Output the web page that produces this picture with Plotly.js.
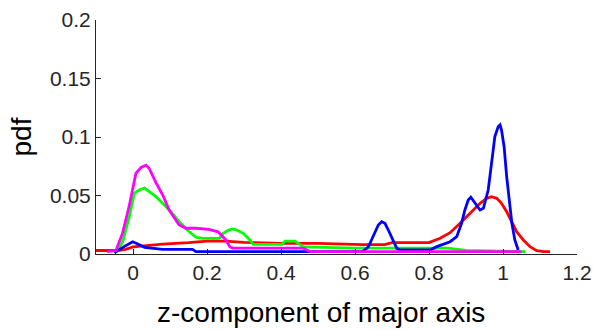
<!DOCTYPE html>
<html>
<head>
<meta charset="utf-8">
<script src="https://cdn.plot.ly/plotly-3.0.1.min.js"></script>
<style>html,body{margin:0;padding:0;background:#fff;}#chart{width:593px;height:330px;}</style>
</head>
<body>
<div id="chart"></div>
<script>
// Red series
const redX = [-0.1, -0.06, -0.04, -0.02, 0.0, 0.03, 0.08, 0.15, 0.2, 0.25, 0.3, 0.4, 0.5, 0.62, 0.68, 0.7, 0.8, 0.83, 0.857, 0.884, 0.911, 0.938, 0.956, 0.969, 0.983, 0.996, 1.01, 1.023, 1.037, 1.055, 1.073, 1.091, 1.11, 1.127];
const redY = [0.003, 0.003, 0.003, 0.004, 0.006, 0.007, 0.0085, 0.0097, 0.011, 0.011, 0.010, 0.009, 0.009, 0.008, 0.008, 0.0097, 0.0097, 0.0134, 0.0182, 0.0262, 0.0348, 0.0433, 0.0476, 0.049, 0.0476, 0.0433, 0.0362, 0.0276, 0.019, 0.012, 0.0062, 0.0028, 0.002, 0.002];
// Green series
const greenX = [-0.05, -0.041, -0.028, -0.01, 0.0035, 0.017, 0.031, 0.044, 0.062, 0.08, 0.098, 0.125, 0.152, 0.17, 0.188, 0.233, 0.244, 0.258, 0.271, 0.28, 0.298, 0.316, 0.325, 0.402, 0.411, 0.438, 0.46, 0.6, 0.85, 0.9, 1.06];
const greenY = [0.001, 0.003, 0.0105, 0.0319, 0.052, 0.0547, 0.0564, 0.0533, 0.049, 0.0433, 0.0376, 0.0276, 0.019, 0.0143, 0.0134, 0.0134, 0.0177, 0.0205, 0.0215, 0.0205, 0.0177, 0.012, 0.0083, 0.0083, 0.011, 0.011, 0.006, 0.005, 0.005, 0.003, 0.002];
// Blue series
const blueX = [-0.05, -0.046, -0.024, -0.001, 0.013, 0.031, 0.08, 0.161, 0.17, 0.3, 0.5, 0.62, 0.636, 0.649, 0.663, 0.672, 0.681, 0.69, 0.704, 0.713, 0.722, 0.803, 0.821, 0.848, 0.857, 0.875, 0.888, 0.897, 0.906, 0.913, 0.924, 0.938, 0.947, 0.96, 0.969, 0.978, 0.987, 0.992, 0.996, 1.003, 1.01, 1.017, 1.024, 1.032, 1.041];
const blueY = [0.001, 0.002, 0.0063, 0.0105, 0.0085, 0.0057, 0.004, 0.004, 0.002, 0.002, 0.002, 0.002, 0.006, 0.0148, 0.0248, 0.0276, 0.0262, 0.0205, 0.0105, 0.0048, 0.0034, 0.0034, 0.0063, 0.0091, 0.0105, 0.0148, 0.0262, 0.0376, 0.0462, 0.0485, 0.0433, 0.0376, 0.039, 0.0547, 0.0775, 0.1003, 0.1088, 0.1103, 0.106, 0.0917, 0.066, 0.0433, 0.0262, 0.012, 0.0034];
// Magenta series
const magentaX = [-0.07, -0.046, -0.028, -0.011, 0.008, 0.022, 0.035, 0.043, 0.062, 0.081, 0.097, 0.124, 0.143, 0.17, 0.205, 0.23, 0.251, 0.262, 0.27, 0.3, 0.46, 0.48, 1.05];
const magentaY = [0.002, 0.003, 0.018, 0.040, 0.069, 0.074, 0.076, 0.0735, 0.061, 0.050, 0.038, 0.025, 0.022, 0.022, 0.021, 0.019, 0.012, 0.006, 0.005, 0.005, 0.005, 0.002, 0.002];

const xTitle = "z-component of major axis";
const yTitle = "pdf";

const lw = 2.8;
const traces = [
  {x: redX, y: redY, color: "#ff0000"},
  {x: greenX, y: greenY, color: "#00ff00"},
  {x: blueX, y: blueY, color: "#0000ff"},
  {x: magentaX, y: magentaY, color: "#ff00ff"}
].map(s => ({x: s.x, y: s.y, type: "scatter", mode: "lines", line: {color: s.color, width: lw}, hoverinfo: "skip"}));

const font = "Liberation Sans, Arial, sans-serif";
const layout = {
  width: 593, height: 330,
  margin: {l: 96, r: 16, t: 20, b: 76},
  paper_bgcolor: "#fff", plot_bgcolor: "#fff",
  showlegend: false,
  font: {family: font, color: "#262626"},
  xaxis: {
    range: [-0.1, 1.2], dtick: 0.2, tick0: 0,
    ticks: "inside", ticklen: 5, tickcolor: "#262626",
    showline: true, linecolor: "#262626", linewidth: 1,
    showgrid: false, zeroline: false,
    tickfont: {family: font, size: 21, color: "#262626"}
  },
  yaxis: {
    range: [0, 0.2], dtick: 0.05, tick0: 0,
    ticks: "inside", ticklen: 5, tickcolor: "#262626",
    showline: true, linecolor: "#262626", linewidth: 1,
    showgrid: false, zeroline: false,
    tickfont: {family: font, size: 21, color: "#262626"},
    title: {text: yTitle, font: {family: font, size: 28, color: "#000"}, standoff: 10}
  },
  annotations: [{
    text: xTitle, xref: "paper", yref: "paper",
    x: 0.4678, y: -0.252, xanchor: "center", yanchor: "middle",
    showarrow: false, font: {family: font, size: 28, color: "#000"}
  }]
};
Plotly.newPlot("chart", traces, layout, {staticPlot: true, displayModeBar: false});
</script>
</body>
</html>
